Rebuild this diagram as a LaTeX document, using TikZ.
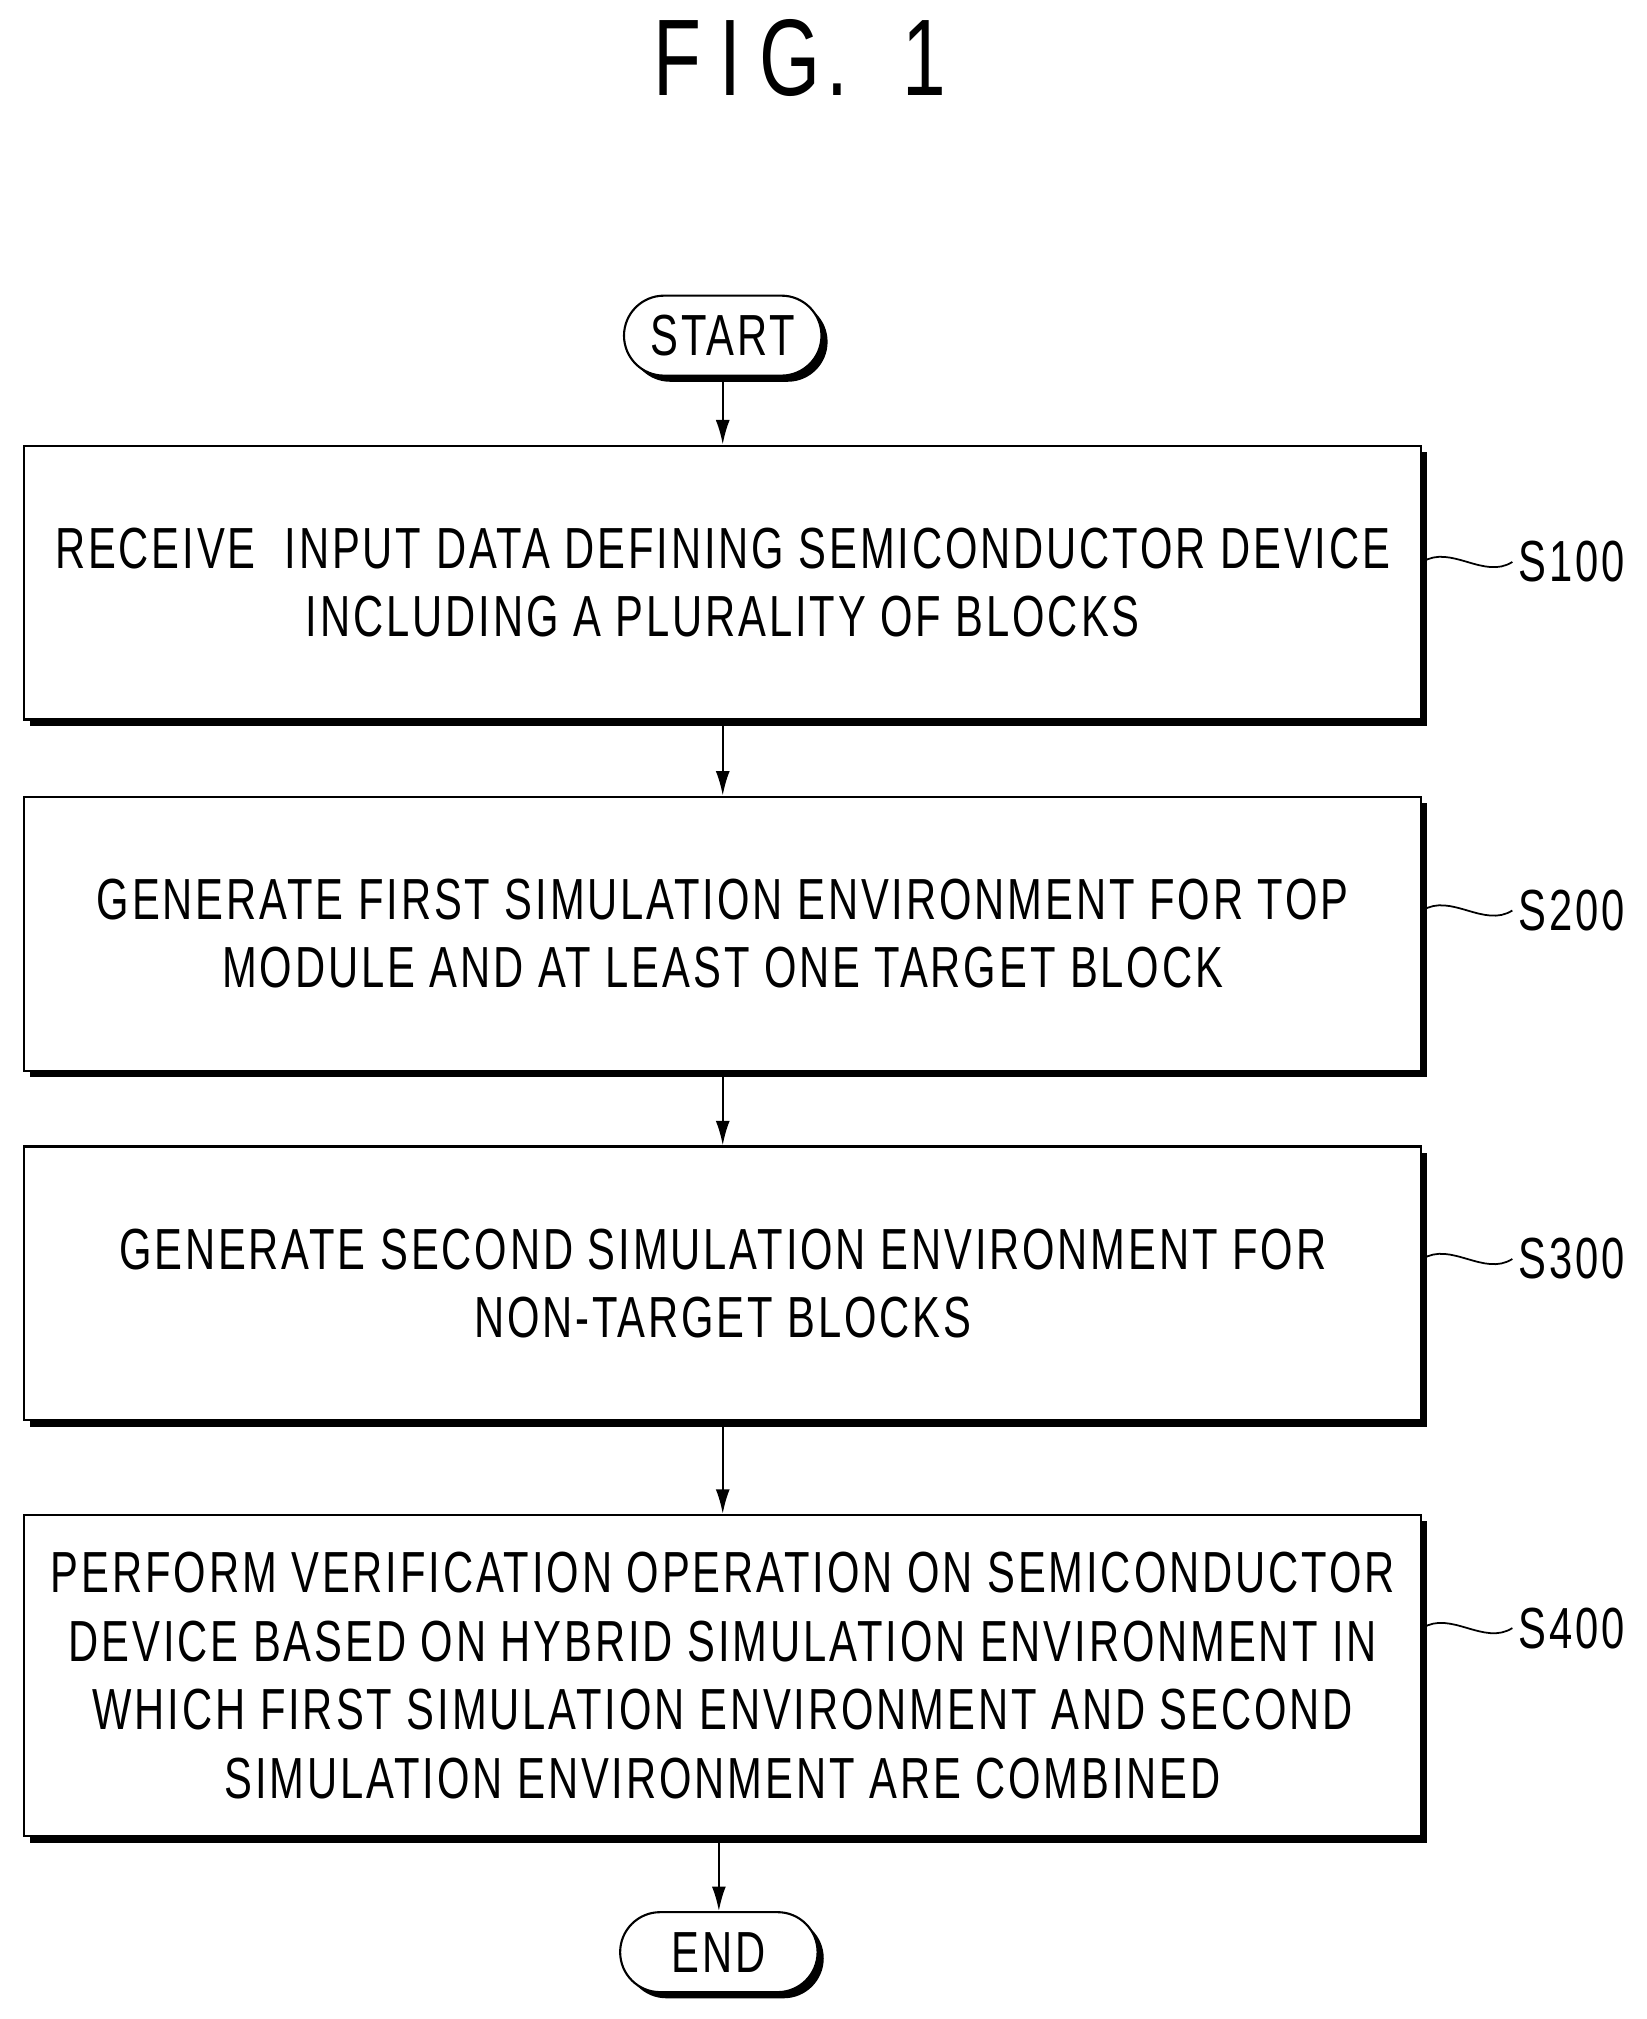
\documentclass[tikz,border=0pt]{standalone}
\usepackage{fontspec}
\setmainfont{Liberation Sans}
\newfontfamily\figfont[FakeStretch=0.72,LetterSpace=5]{Liberation Sans}
\usetikzlibrary{shadows}
\tikzstyle{step box}=[draw,line width=1.2pt,fill=white,minimum width=27.95cm,
    minimum height=5.48cm,align=center,font=\figfont\fontsize{33}{39}\selectfont,
    drop shadow={shadow xshift=3.5pt,shadow yshift=-3.5pt,fill=black,opacity=1}]
\tikzstyle{terminal}=[draw,line width=1.2pt,fill=white,rounded corners=0.8cm,
    minimum width=3.95cm,minimum height=1.6cm,font=\figfont\fontsize{33}{39}\selectfont,
    drop shadow={shadow xshift=3.5pt,shadow yshift=-3.5pt,fill=black,opacity=1}]
\tikzstyle{step label}=[anchor=west,font=\figfont\fontsize{33}{39}\selectfont]
\tikzstyle{flow}=[line width=1.2pt,-{Latex[length=14pt,width=8pt]}]
\usetikzlibrary{arrows.meta}
\newcommand{\steplabel}[2]{
    \draw[line width=1pt] (#2.west -| #1.east) .. controls +(22,-14) and +(-22,14) .. (#2.west);}

\begin{document}
\begin{tikzpicture}[x=0.02572cm,y=-0.02572cm]
    \useasboundingbox (0,0) rectangle (1280,1570);
    \node[font=\figfont\fontsize{62}{70}\selectfont] (title) at (622,45) {F\,I\,G.\ \ 1};
    %
    \node[terminal] (start) at (562,261) {START};
    \node[step box] (s1) at (562,453) {RECEIVE\ \ INPUT\ DATA\ DEFINING\ SEMICONDUCTOR\ DEVICE\\INCLUDING\ A\ PLURALITY\ OF\ BLOCKS};
    \node[step box] (s2) at (562,726) {GENERATE\ FIRST\ SIMULATION\ ENVIRONMENT\ FOR\ TOP\\MODULE\ AND\ AT\ LEAST\ ONE\ TARGET\ BLOCK};
    \node[step box] (s3) at (562,998) {GENERATE\ SECOND\ SIMULATION\ ENVIRONMENT\ FOR\\NON-TARGET\ BLOCKS};
    \node[step box,minimum height=6.43cm] (s4) at (562,1303) {PERFORM\ VERIFICATION\ OPERATION\ ON\ SEMICONDUCTOR\\DEVICE\ BASED\ ON\ HYBRID\ SIMULATION\ ENVIRONMENT\ IN\\WHICH\ FIRST\ SIMULATION\ ENVIRONMENT\ AND\ SECOND\\SIMULATION\ ENVIRONMENT\ ARE\ COMBINED};
    \node[terminal] (end) at (559,1518) {END};
    %
    \node[step label] (l1) at (1176,437) {S100};
    \node[step label] (l2) at (1176,708) {S200};
    \node[step label] (l3) at (1176,979) {S300};
    \node[step label] (l4) at (1176,1266) {S400};
    \steplabel{s1}{l1}
    \steplabel{s2}{l2}
    \steplabel{s3}{l3}
    \steplabel{s4}{l4}
    %
    \draw[flow] (start) -- (start|-s1.north);
    \draw[flow] (s1) -- (s1|-s2.north);
    \draw[flow] (s2) -- (s2|-s3.north);
    \draw[flow] (s3) -- (s3|-s4.north);
    \draw[flow] (s4.south-|end) -- (end);
\end{tikzpicture}
\end{document}
